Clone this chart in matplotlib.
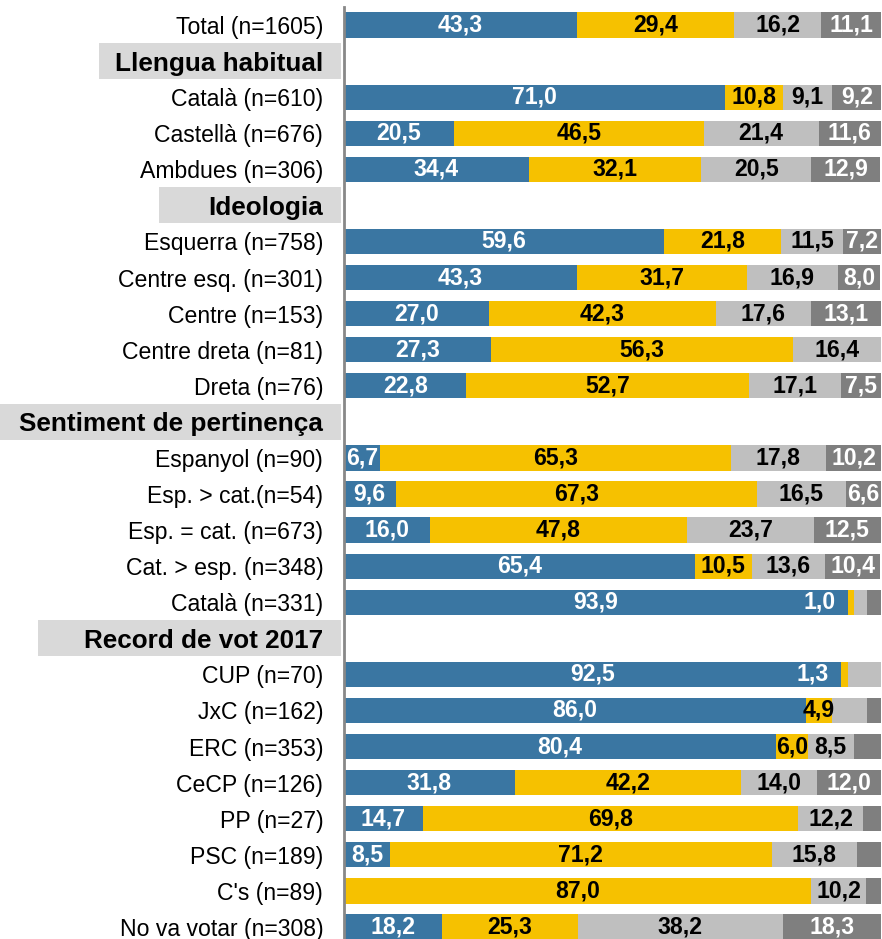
import numpy as np
import matplotlib.pyplot as plt
from matplotlib.patches import Rectangle
from matplotlib.transforms import blended_transform_factory

plt.rcParams['font.family'] = ['Liberation Sans', 'DejaVu Sans']

labels = ["Total (n=1605)", "Llengua habitual", "Català (n=610)", "Castellà (n=676)",
          "Ambdues (n=306)", "Ideologia", "Esquerra (n=758)", "Centre esq. (n=301)",
          "Centre (n=153)", "Centre dreta (n=81)", "Dreta (n=76)", "Sentiment de pertinença",
          "Espanyol (n=90)", "Esp. > cat.(n=54)", "Esp. = cat. (n=673)", "Cat. > esp. (n=348)",
          "Català (n=331)", "Record de vot 2017", "CUP (n=70)", "JxC (n=162)", "ERC (n=353)",
          "CeCP (n=126)", "PP (n=27)", "PSC (n=189)", "C's (n=89)", "No va votar (n=308)"]
headers = ["Llengua habitual", "Ideologia", "Sentiment de pertinença", "Record de vot 2017"]

blue   = [43.3, 0, 71.0, 20.5, 34.4, 0, 59.6, 43.3, 27.0, 27.3, 22.8, 0, 6.7, 9.6, 16.0, 65.4, 93.9, 0, 92.5, 86.0, 80.4, 31.8, 14.7, 8.5, 0.0, 18.2]
yellow = [29.4, 0, 10.8, 46.5, 32.1, 0, 21.8, 31.7, 42.3, 56.3, 52.7, 0, 65.3, 67.3, 47.8, 10.5, 1.0, 0, 1.3, 4.9, 6.0, 42.2, 69.8, 71.2, 87.0, 25.3]
lgray  = [16.2, 0, 9.1, 21.4, 20.5, 0, 11.5, 16.9, 17.6, 16.4, 17.1, 0, 17.8, 16.5, 23.7, 13.6, 2.4, 0, 6.2, 6.4, 8.5, 14.0, 12.2, 15.8, 10.2, 38.2]
dgray  = [11.1, 0, 9.2, 11.6, 12.9, 0, 7.2, 8.0, 13.1, 0.0, 7.5, 0, 10.2, 6.6, 12.5, 10.4, 2.7, 0, 0.0, 2.7, 5.1, 12.0, 3.3, 4.5, 2.8, 18.3]

# segments without a printed value in the original
hidden = {("Català (n=331)", 2), ("Català (n=331)", 3), ("CUP (n=70)", 2), ("JxC (n=162)", 2),
          ("JxC (n=162)", 3), ("ERC (n=353)", 3), ("PP (n=27)", 3), ("PSC (n=189)", 3),
          ("C's (n=89)", 0), ("C's (n=89)", 3)}
# tiny yellow values printed inside the blue bar
moved = ["Català (n=331)", "CUP (n=70)"]

colors = ["#3A76A2", "#F6C100", "#BFBFBF", "#7F7F7F"]
text_colors = ["white", "black", "black", "white"]
header_left_px = {"Llengua habitual": 99, "Ideologia": 159,
                  "Sentiment de pertinença": 0, "Record de vot 2017": 38}

W, H = 882, 939
fig = plt.figure(figsize=(W / 100, H / 100), dpi=100)
ax = fig.add_axes([344 / W, (H - 945) / H, 537 / W, (945 - 7) / H])

n = len(labels)
y = np.arange(n)
series = [blue, yellow, lgray, dgray]
left = np.zeros(n)
for k, vals in enumerate(series):
    vals = np.array(vals, dtype=float)
    ax.barh(y, vals, left=left, height=0.7, color=colors[k], zorder=2)
    for i in range(n):
        lab = labels[i]
        if lab in headers or vals[i] <= 0 or (lab, k) in hidden:
            continue
        txt = f"{vals[i]:.1f}".replace(".", ",")
        if k == 1 and lab in moved:
            ax.text(left[i] - 2.3, y[i], txt, ha="right", va="center", color="white",
                    fontsize=16.6, fontweight="bold", zorder=3)
        else:
            ax.text(left[i] + vals[i] / 2, y[i], txt, ha="center", va="center",
                    color=text_colors[k], fontsize=16.6, fontweight="bold", zorder=3)
    left += vals

ax.set_xlim(0, 100)
ax.set_ylim(n - 0.5, -0.5)
ax.set_xticks([])
ax.set_yticks(y)
ax.set_yticklabels(labels, fontsize=16.6)
for t in ax.get_yticklabels():
    if t.get_text() in headers:
        t.set_fontweight("bold")
        t.set_fontsize(18.8)
ax.tick_params(axis="y", length=0, pad=15)
for s in ["top", "right", "bottom"]:
    ax.spines[s].set_visible(False)
ax.spines["left"].set_color("#888888")
ax.spines["left"].set_linewidth(2)

trans = blended_transform_factory(fig.transFigure, ax.transData)
for i, lab in enumerate(labels):
    if lab in headers:
        x0 = header_left_px[lab] / W
        ax.add_patch(Rectangle((x0, i - 0.5), 341 / W - x0, 1.0, transform=trans,
                               facecolor="#D9D9D9", edgecolor="none", clip_on=False, zorder=0.5))

fig.savefig("out.png", dpi=100)
